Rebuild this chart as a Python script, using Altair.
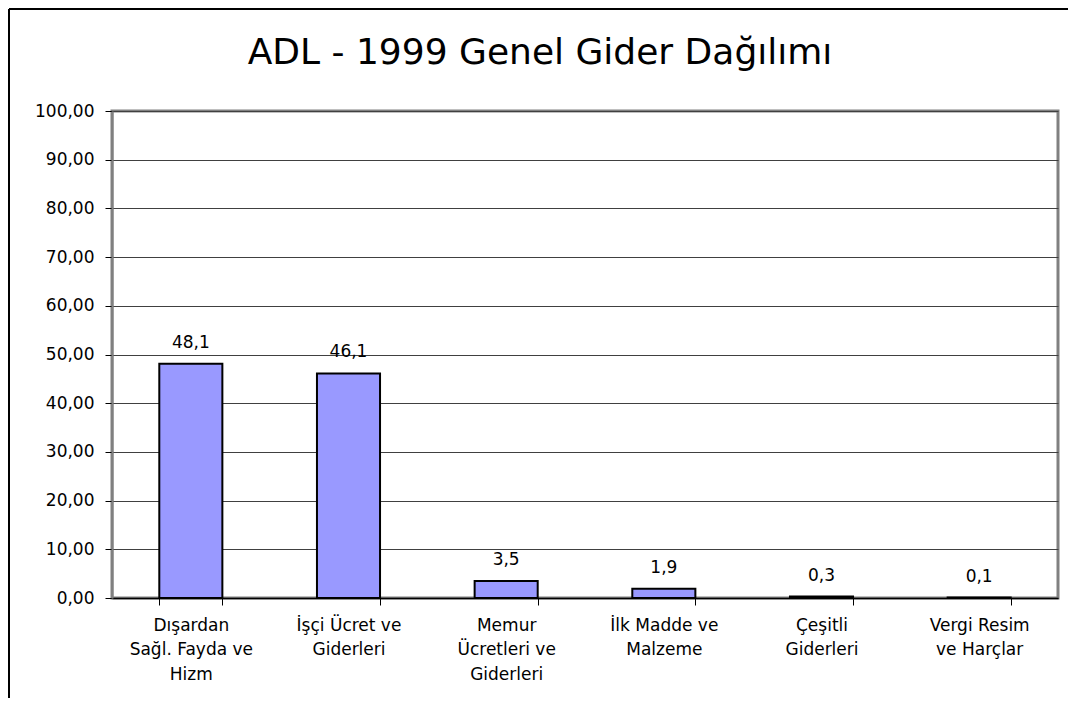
import altair as alt
import pandas as pd

categories = [
    "Dışardan|Sağl. Fayda ve|Hizm",
    "İşçi Ücret ve|Giderleri",
    "Memur|Ücretleri ve|Giderleri",
    "İlk Madde ve|Malzeme",
    "Çeşitli|Giderleri",
    "Vergi Resim|ve Harçlar",
]
values = [48.1, 46.1, 3.5, 1.9, 0.3, 0.1]
y_ticks = [0, 10, 20, 30, 40, 50, 60, 70, 80, 90, 100]
title_text = "ADL - 1999 Genel Gider Dağılımı"

df = pd.DataFrame({"cat": categories, "val": values})
FONT = "DejaVu Sans"

x_enc = alt.X(
    "cat:N",
    sort=categories,
    title=None,
    scale=alt.Scale(paddingInner=0.6, paddingOuter=0.3),
    axis=alt.Axis(
        labelExpr="split(datum.label, '|')",
        labelAngle=0,
        labelFont=FONT,
        labelFontSize=17,
        labelColor="black",
        labelLineHeight=24.5,
        labelPadding=12,
        tickBand="extent",
        tickSize=7,
        tickColor="black",
        domainColor="black",
        domainWidth=1.5,
        grid=False,
    ),
)
y_enc = alt.Y(
    "val:Q",
    title=None,
    scale=alt.Scale(domain=[0, 100], nice=False),
    axis=alt.Axis(
        values=y_ticks,
        format=".2f",
        labelFont=FONT,
        labelFontSize=17,
        labelColor="black",
        labelPadding=11,
        tickSize=7,
        tickColor="black",
        domainColor="#808080",
        domainWidth=2,
        grid=True,
        gridColor="#404040",
        gridWidth=1,
    ),
)

base = alt.Chart(df)
bars = base.mark_bar(fill="#9999FF", stroke="black", strokeWidth=2).encode(x=x_enc, y=y_enc)
labels = base.mark_text(baseline="bottom", dy=-12, fontSize=17, font=FONT, color="black").encode(
    x=alt.X("cat:N", sort=categories),
    y="val:Q",
    text=alt.Text("val:Q", format=".1f"),
)
frame_left = base.mark_rule(color="black", strokeWidth=2).encode(
    x=alt.value(-103), y=alt.value(-102), y2=alt.value(600)
)
frame_top = base.mark_rule(color="black", strokeWidth=2).encode(
    x=alt.value(-103), x2=alt.value(970), y=alt.value(-102)
)

chart = (
    alt.layer(frame_left, frame_top, bars, labels)
    .properties(
        width=946,
        height=487,
        title=alt.TitleParams(
            title_text,
            font=FONT,
            fontSize=36,
            fontWeight="normal",
            color="black",
            anchor="middle",
            baseline="alphabetic",
            dx=-45,
            offset=-92,
        ),
        autosize=alt.AutoSizeParams(type="none"),
        padding={"left": 104, "top": 103, "right": 10, "bottom": 100},
    )
    .configure(
        locale={
            "number": {
                "decimal": ",",
                "thousands": ".",
                "grouping": [3],
                "currency": ["", " TL"],
            }
        }
    )
    .configure_view(stroke="#808080", strokeWidth=3)
)

chart.save("out.html", embed_options={"renderer": "svg", "actions": False})
